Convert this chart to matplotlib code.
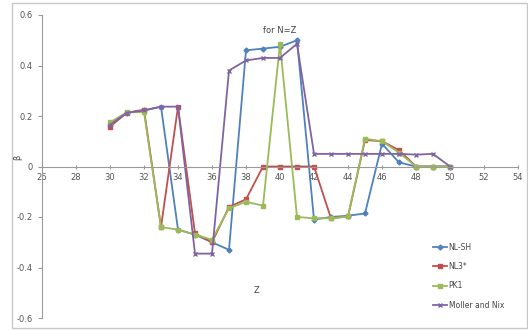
import matplotlib.pyplot as plt
from matplotlib.patches import Rectangle

# Z values and deformation for N=Z
z = [30, 31, 32, 33, 34, 35, 36, 37, 38, 39, 40, 41, 42, 43, 44, 45, 46, 47, 48, 49, 50]

nl_sh = [0.165, 0.213, 0.222, 0.237, -0.25, -0.27, -0.30, -0.33, 0.46, 0.467, 0.474, 0.50,
         -0.21, -0.20, -0.195, -0.186, 0.09, 0.016, 0.0, 0.0, 0.0]
nl3 = [0.158, 0.213, 0.225, -0.24, 0.237, -0.265, -0.30, -0.16, -0.13, 0.0, 0.0, 0.0,
       0.0, -0.205, -0.198, 0.105, 0.10, 0.065, 0.0, 0.0, 0.0]
pk1 = [0.175, 0.215, 0.215, -0.24, -0.25, -0.27, -0.29, -0.165, -0.14, -0.155, 0.486, -0.20,
       -0.205, -0.205, -0.198, 0.11, 0.10, 0.055, 0.0, 0.0, 0.0]
moller = [0.165, 0.213, 0.222, 0.237, 0.237, -0.345, -0.345, 0.38, 0.42, 0.43, 0.43, 0.486,
          0.05, 0.05, 0.05, 0.05, 0.05, 0.05, 0.047, 0.05, 0.0]

xticks = list(range(26, 55, 2))
yticks = [-0.6, -0.4, -0.2, 0, 0.2, 0.4, 0.6]

fig = plt.figure(figsize=(5.28, 3.31), dpi=100)
fig.patches.append(Rectangle((12 / 528, 3 / 331), 515 / 528, 325 / 331, transform=fig.transFigure,
                             fill=False, edgecolor='#c8c8c8', linewidth=1))
ax = fig.add_axes([42 / 528, 13 / 331, 476 / 528, 303 / 331])

ax.plot(z, nl_sh, color='#4F81BD', marker='D', markersize=2.5, lw=1.3, label='NL-SH')
ax.plot(z, nl3, color='#C0504D', marker='s', markersize=3.5, lw=1.3, label='NL3*')
ax.plot(z, pk1, color='#9BBB59', marker='s', markersize=3.5, lw=1.3, label='PK1')
ax.plot(z, moller, color='#8064A2', marker='x', markersize=3, lw=1.3, label='Moller and Nix')

ax.set_xlim(26, 54)
ax.set_ylim(-0.6, 0.6)
ax.set_xticks(xticks)
ax.set_yticks(yticks)
ax.set_yticklabels(['-0.6', '-0.4', '-0.2', '0', '0.2', '0.4', '0.6'])

for s in ['top', 'right']:
    ax.spines[s].set_visible(False)
ax.spines['bottom'].set_position(('data', 0))
ax.spines['bottom'].set_color('#9a9a9a')
ax.spines['left'].set_color('#9a9a9a')
ax.tick_params(axis='both', colors='#9a9a9a', labelcolor='#555555', labelsize=6, length=3)
ax.tick_params(axis='x', direction='inout', pad=3)

ax.text(40, 0.54, 'for N=Z', fontsize=6, color='#444444', ha='center', va='center')
ax.text(38.6, -0.49, 'Z', fontsize=6, color='#444444', ha='center', va='center')
fig.text(18 / 528, 1 - 157 / 331, 'β', fontsize=6, color='#444444', ha='center', va='center', rotation=90)

ax.legend(loc='lower right', bbox_to_anchor=(0.985, 0.005), frameon=False, fontsize=5.5,
          handlelength=1.8, labelspacing=1.35, handletextpad=0.2, labelcolor='#444444')

fig.savefig('out.png', dpi=100)
